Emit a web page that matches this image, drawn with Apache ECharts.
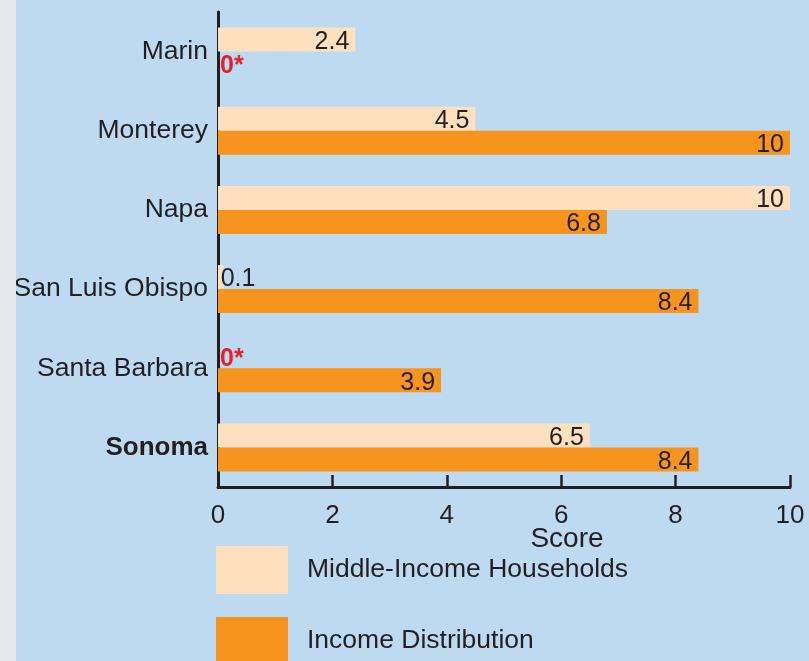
<!DOCTYPE html>
<html lang="en">
<head>
    <meta charset="UTF-8">
    <title>Score</title>
    <style>
        html, body { margin: 0; padding: 0; background: #e6e7e8; }
        #root { position: absolute; left: 16px; top: 0; width: 793px; height: 661px; background: #bddaf1; }
    </style>
</head>
<body>
    <div id="root"></div>
    <script src="https://cdn.jsdelivr.net/npm/echarts@6/dist/echarts.min.js"></script>
    <script>
        var counties = ["Marin", "Monterey", "Napa", "San Luis Obispo", "Santa Barbara", "Sonoma"];
        var middleIncome = [2.4, 4.5, 10, 0.1, 0, 6.5];
        var incomeDist = [0, 10, 6.8, 8.4, 3.9, 8.4];
        var xTicks = [0, 2, 4, 6, 8, 10];
        var seriesNames = ["Middle-Income Households", "Income Distribution"];

        var font = "'Liberation Sans', Arial, sans-serif";
        var ink = "#231f20";

        // small values get their label outside the bar, zero gets a red "0*"
        function toItems(arr) {
            return arr.map(function (v) {
                if (v === 0) {
                    return { value: v, label: { position: "right", distance: 2, formatter: "{z|0*}" } };
                }
                if (v < 0.5) {
                    return { value: v, label: { position: "right", distance: -3 } };
                }
                return v;
            });
        }

        var labelStyle = {
            show: true,
            position: "insideRight",
            distance: 6,
            fontFamily: font,
            fontSize: 25,
            color: ink,
            padding: [5, 0, 0, 0],
            rich: {
                z: { fontFamily: font, fontSize: 25, fontWeight: "bold", color: "#e8202a" }
            }
        };

        // one legend per item so the second one can run off the bottom like the original
        function legendAt(name, top) {
            return {
                orient: "vertical",
                left: 200,
                top: top,
                padding: 0,
                itemWidth: 72,
                itemHeight: 48,
                icon: "rect",
                selectedMode: false,
                textStyle: { fontFamily: font, fontSize: 26.5, color: ink, padding: [0, 0, 0, 14] },
                data: [name]
            };
        }

        var option = {
            animation: false,
            textStyle: { fontFamily: font },
            grid: { left: 202, right: 19, top: 12, bottom: 174, outerBoundsMode: "none" },
            legend: [legendAt(seriesNames[0], 546), legendAt(seriesNames[1], 617)],
            xAxis: {
                type: "value",
                min: xTicks[0],
                max: xTicks[xTicks.length - 1],
                interval: 2,
                name: "Score",
                nameLocation: "middle",
                nameGap: 38,
                nameMoveOverlap: false,
                nameTextStyle: { fontFamily: font, fontSize: 28, color: ink, padding: [0, 0, 0, 126] },
                axisLine: { show: true, lineStyle: { color: ink, width: 3 } },
                axisTick: { show: true, inside: true, length: 12, lineStyle: { color: ink, width: 2.5 } },
                axisLabel: { fontFamily: font, fontSize: 26, color: ink, margin: 16 },
                splitLine: { show: false }
            },
            yAxis: {
                type: "category",
                inverse: true,
                data: counties,
                axisLine: { lineStyle: { color: ink, width: 3 } },
                axisTick: { show: false },
                axisLabel: {
                    fontFamily: font,
                    fontSize: 26.5,
                    color: ink,
                    margin: 10,
                    formatter: function (v) {
                        return v === "Sonoma" ? "{b|" + v + "}" : v;
                    },
                    rich: { b: { fontFamily: font, fontSize: 26, fontWeight: "bold", color: ink } }
                }
            },
            series: [
                {
                    name: seriesNames[0],
                    type: "bar",
                    data: toItems(middleIncome),
                    barGap: "0%",
                    barCategoryGap: "39.4%",
                    itemStyle: { color: "#fee0bf" },
                    label: labelStyle
                },
                {
                    name: seriesNames[1],
                    type: "bar",
                    data: toItems(incomeDist),
                    itemStyle: { color: "#f7941d" },
                    label: labelStyle
                }
            ]
        };

        var chart = echarts.init(document.getElementById("root"));
        chart.setOption(option);
    </script>
</body>
</html>
